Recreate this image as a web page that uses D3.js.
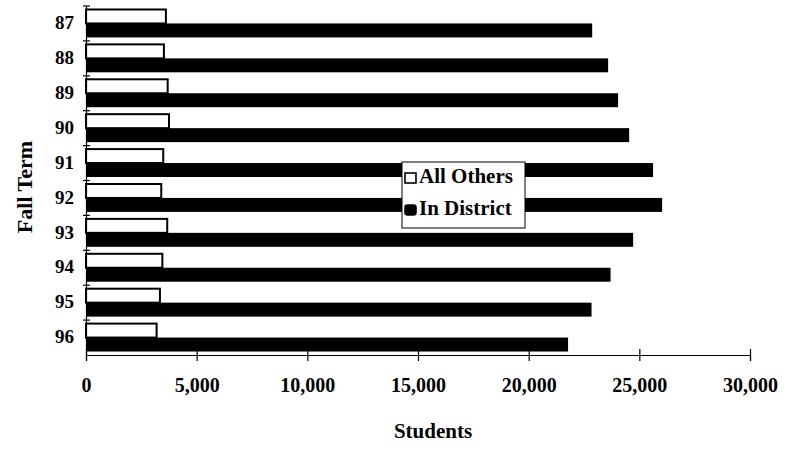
<!DOCTYPE html>
<html lang="en">
<head>
    <meta charset="UTF-8">
    <title>Fall Term Enrollment</title>
    <script src="https://cdn.jsdelivr.net/npm/d3@7"></script>
    <style>
        body { margin: 0; background: #ffffff; }
        text { font-family: "Liberation Serif", "Times New Roman", serif; font-weight: bold; fill: #000; }
    </style>
</head>
<body>
<svg id="mainsvg" width="787" height="455"></svg>
<script>
    // Data
    const terms = ['87', '88', '89', '90', '91', '92', '93', '94', '95', '96'];
    const allOthers = [3610, 3520, 3690, 3750, 3490, 3400, 3670, 3450, 3340, 3190];
    const inDistrict = [22870, 23590, 24040, 24540, 25620, 26030, 24720, 23700, 22840, 21780];
    const seriesNames = ['All Others', 'In District'];
    const xTicks = [0, 5000, 10000, 15000, 20000, 25000, 30000];

    const svg = d3.select('#mainsvg');
    const margin = {top: 6, right: 37, bottom: 100, left: 86};
    const width = +svg.attr('width');
    const height = +svg.attr('height');

    const xScale = d3.scaleLinear()
        .domain([0, 30000])
        .range([margin.left, width - margin.right]);

    const yScale = d3.scaleBand()
        .domain(terms)
        .range([margin.top, height - margin.bottom])
        .paddingInner(0.2)
        .paddingOuter(0.1);

    const subScale = d3.scaleBand()
        .domain(seriesNames)
        .range([0, yScale.bandwidth()]);

    const rows = terms.map((t, i) => ({term: t, values: [allOthers[i], inDistrict[i]]}));

    // bars
    const groups = svg.append('g').selectAll('g')
        .data(rows)
        .join('g')
        .attr('transform', d => `translate(0,${yScale(d.term)})`);

    groups.selectAll('rect')
        .data(d => d.values.map((v, k) => ({name: seriesNames[k], value: v})))
        .join('rect')
        .attr('x', xScale(0))
        .attr('y', d => subScale(d.name))
        .attr('width', d => xScale(d.value) - xScale(0))
        .attr('height', subScale.bandwidth())
        .attr('fill', d => d.name === 'All Others' ? '#ffffff' : '#000000')
        .attr('stroke', '#000000')
        .attr('stroke-width', d => d.name === 'All Others' ? 2 : 0);

    // x axis
    const xAxis = svg.append('g')
        .attr('transform', `translate(0,${height - margin.bottom})`)
        .call(d3.axisBottom(xScale).tickValues(xTicks).tickSize(6).tickFormat(d3.format(',')));
    xAxis.selectAll('.tick line').attr('y1', -6).attr('stroke', '#000').attr('stroke-width', 1.2);
    xAxis.select('.domain').attr('stroke-width', 1.2);
    xAxis.selectAll('.tick text')
        .attr('y', 37)
        .attr('dy', 0)
        .attr('font-size', 20);

    // y axis
    const yAxis = svg.append('g')
        .attr('transform', `translate(${margin.left},0)`)
        .call(d3.axisLeft(yScale).tickSize(0).tickPadding(12));
    yAxis.select('.domain').attr('stroke-width', 1.2);
    yAxis.selectAll('.tick text')
        .attr('font-size', 19)
        .attr('dy', '0.3em');

    // tick marks on band boundaries
    svg.append('g').selectAll('line')
        .data(terms)
        .join('line')
        .attr('x1', margin.left - 3)
        .attr('x2', margin.left + 4)
        .attr('y1', d => yScale(d) - yScale.step() * yScale.paddingInner() / 2)
        .attr('y2', d => yScale(d) - yScale.step() * yScale.paddingInner() / 2)
        .attr('stroke', '#000')
        .attr('stroke-width', 1.2);

    // axis titles
    svg.append('text')
        .attr('x', 433)
        .attr('y', 438)
        .attr('text-anchor', 'middle')
        .attr('font-size', 21)
        .text('Students');

    svg.append('text')
        .attr('transform', 'translate(32,187) rotate(-90)')
        .attr('text-anchor', 'middle')
        .attr('font-size', 22)
        .text('Fall Term');

    // legend
    const legend = svg.append('g').attr('transform', 'translate(402,162)');
    legend.append('rect')
        .attr('width', 123)
        .attr('height', 66)
        .attr('fill', '#ffffff')
        .attr('stroke', '#000')
        .attr('stroke-width', 1);

    const items = legend.selectAll('g.item')
        .data(seriesNames)
        .join('g')
        .attr('class', 'item')
        .attr('transform', (d, i) => `translate(3,${11 + i * 32})`);

    items.append('rect')
        .attr('width', 11)
        .attr('height', 10)
        .attr('rx', (d, i) => i === 1 ? 2.5 : 0)
        .attr('fill', (d, i) => i === 0 ? '#ffffff' : '#000000')
        .attr('stroke', '#000')
        .attr('stroke-width', 1.6);

    items.append('text')
        .attr('x', 14)
        .attr('y', 10)
        .attr('font-size', 21)
        .text(d => d);
</script>
</body>
</html>
